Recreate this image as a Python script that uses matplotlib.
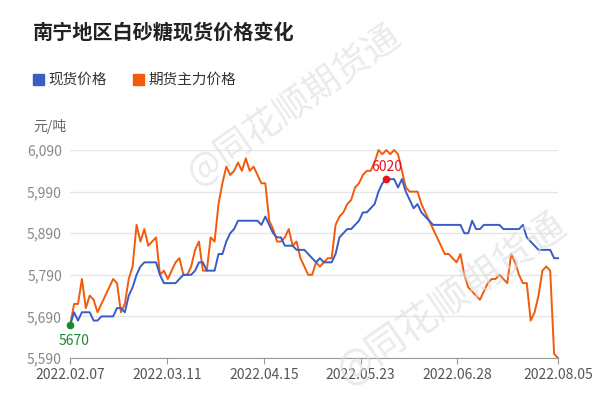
import numpy as np
import matplotlib
matplotlib.use("Agg")
import matplotlib.pyplot as plt

plt.rcParams['font.family'] = ['Noto Sans CJK SC', 'DejaVu Sans']

xlabels = ["2022.02.07", "2022.03.11", "2022.04.15", "2022.05.23", "2022.06.28", "2022.08.05"]
yticks = [5590, 5690, 5790, 5890, 5990, 6090]

spot = [5670,5700,5680,5700,5700,5700,5680,5680,5690,5690,5690,5690,5710,5710,5700,
        5740,5760,5790,5810,5820,5820,5820,5820,5790,5770,5770,5770,5770,5780,5790,5790,5790,5800,
        5820,5820,5800,5800,5800,5840,5840,5870,5890,5900,5920,5920,5920,5920,5920,5920,5910,5930,5910,5890,
        5880,5880,5860,5860,5860,5850,5850,5850,5840,5830,5820,5830,5820,5820,5820,5840,5880,5890,
        5900,5900,5910,5920,5940,5940,5950,5960,5990,
        6010,6020,6020,6020,6000,6020,5990,5970,5950,5960,5940,5930,5920,5910,
        5910,5910,5910,5910,5910,5910,5910,5890,5890,5920,5900,5900,
        5910,5910,5910,5910,5910,5900,5900,5900,5900,5900,5910,5880,5870,5860,5850,5850,5850,5850,5830,5830]
futures = [5670,5720,5720,5780,5710,5740,5730,5700,5720,5740,5760,5780,5770,5700,5720,
           5780,5810,5910,5870,5900,5860,5870,5880,5790,5800,5780,5800,5820,5830,5790,5790,5810,5850,
           5870,5800,5800,5880,5870,5960,6010,6050,6030,6040,6060,6040,6070,6040,6050,6030,6010,6010,5920,5900,
           5870,5870,5880,5900,5860,5870,5830,5810,5790,5790,5820,5810,5820,5830,5830,5910,5930,5940,
           5960,5970,6000,6010,6030,6040,6040,6060,6090,6080,6090,6080,6090,
           6080,6040,6000,5990,5990,5990,5960,5940,5920,5900,5880,5860,5840,5840,5830,5820,
           5840,5790,5760,5750,5740,5730,5750,5770,5780,5780,5790,5780,5770,5840,5820,5790,
           5770,5770,5680,5700,5740,5800,5810,5800,5600,5590]

fig = plt.figure(figsize=(6, 4.08), dpi=100)
ax = fig.add_axes([0.117, 0.1225, 0.813, 0.5098])
xs = np.linspace(0, 5.04, len(spot))
xf = np.linspace(0, 5.04, len(futures))
ax.plot(xs, spot, color='#3a5cc5', lw=1.4, clip_on=False, zorder=3)
ax.plot(xf, futures, color='#f25a0c', lw=1.4, clip_on=False, zorder=2)
ax.plot(xs[0], spot[0], 'o', color='#1a8a2e', ms=4.5, zorder=4, clip_on=False)
ax.text(xs[0] - 0.12, spot[0] - 22, "5670", color='#1a8a2e', fontsize=10, va='top', ha='left')
imax = int(np.argmax(spot))
ax.plot(xs[imax], spot[imax], 'o', color='#e8141c', ms=4.5, zorder=4)
ax.text(xs[imax], spot[imax] + 12, str(spot[imax]), color='#e8141c', fontsize=10, ha='center', va='bottom')

ax.set_xlim(0, 5.04)
ax.set_ylim(5590, 6090)
ax.set_yticks(yticks)
ax.set_yticklabels([f"{v:,}" for v in yticks], color='#888888', fontsize=10)
ax.set_xticks([0, 1, 2, 3, 4, 5.04])
ax.set_xticklabels(xlabels, color='#555555', fontsize=10)
ax.tick_params(axis='y', length=0, pad=6)
ax.tick_params(axis='x', length=4, color='#999999')
ax.grid(axis='y', color='#e6e6e6', lw=1)
for s in ['top', 'right', 'left']:
    ax.spines[s].set_visible(False)
ax.spines['bottom'].set_color('#999999')
ax.set_axisbelow(True)

fig.text(0.055, 0.905, "南宁地区白砂糖现货价格变化", fontsize=14.5, fontweight='bold', color='#222222')
fig.patches.append(plt.Rectangle((0.055, 0.792), 0.018, 0.027, transform=fig.transFigure, color='#3a5cc5'))
fig.text(0.08, 0.805, "现货价格", fontsize=10.5, va='center', color='#333333')
fig.patches.append(plt.Rectangle((0.222, 0.792), 0.018, 0.027, transform=fig.transFigure, color='#f25a0c'))
fig.text(0.247, 0.805, "期货主力价格", fontsize=10.5, va='center', color='#333333')
fig.text(0.055, 0.69, "元/吨", fontsize=10, color='#666666', va='center')
fig.text(0.30, 0.55, "@同花顺期货通", fontsize=26, color='#dddddd', alpha=0.6, rotation=35, zorder=0)
fig.text(0.55, 0.06, "@同花顺期货通", fontsize=28, color='#dddddd', alpha=0.6, rotation=35, zorder=0)
fig.savefig("out.png", dpi=100, facecolor='white')
